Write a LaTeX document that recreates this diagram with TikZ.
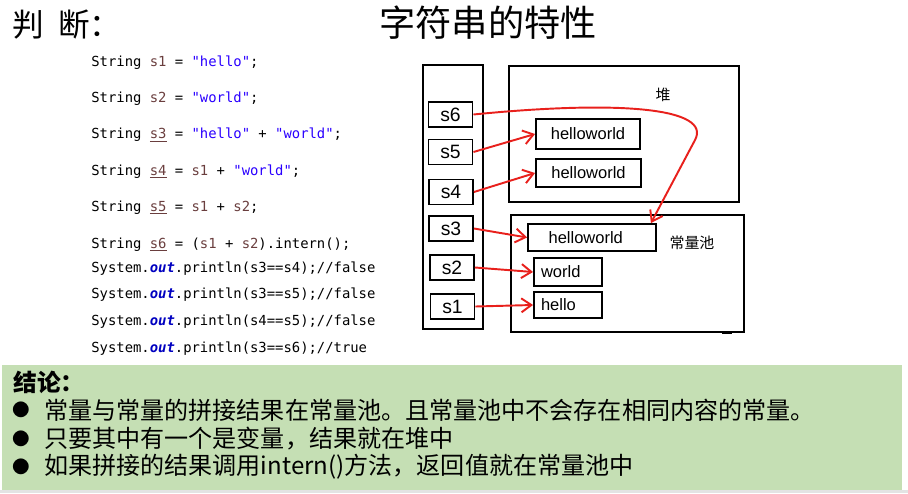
\documentclass[tikz,border=0pt]{standalone}
\usepackage{fontspec}
\setmainfont{Liberation Sans}
\setmonofont{DejaVu Sans Mono}
\newfontfamily\cjk{Noto Sans CJK SC}
\usetikzlibrary{arrows.meta,calc}
\definecolor{cvar}{HTML}{6A3E3E}
\definecolor{cstr}{HTML}{2A00FF}
\definecolor{cfield}{HTML}{0000C0}
\definecolor{cline}{HTML}{E8201C}
\definecolor{cnote}{HTML}{C5DFB4}
\newcommand{\jvar}[1]{\textcolor{cvar}{#1}}
\newcommand{\jstr}[1]{\textcolor{cstr}{#1}}
\newcommand{\jout}{\textcolor{cfield}{\bfseries\itshape out}}
\tikzset{
  code/.style={anchor=base west, inner sep=0pt, font=\ttfamily\fontsize{7.9}{10}\selectfont},
  area/.style={draw, line width=1.1pt, inner sep=0pt},
  ref/.style={draw, line width=1.1pt, minimum width=0.88cm, minimum height=0.5cm,
              inner sep=0pt, font=\fontsize{11}{13}\selectfont},
  obj/.style={draw, line width=1.1pt, minimum height=0.56cm, inner sep=0pt,
              font=\fontsize{9.4}{11}\selectfont},
  cjktext/.style={anchor=west, inner sep=0pt, font=\cjk\fontsize{13.7}{16}\selectfont},
  link/.style={-{Straight Barb[length=2mm,width=2.8mm]}, line width=1.1pt, draw=cline}
}
\begin{document}
\begin{tikzpicture}[x=0.02cm, y=-0.02cm]
\useasboundingbox (0,0) rectangle (908,493);
% headings
\node[anchor=west, inner sep=0pt, font=\cjk\fontsize{18}{21}\selectfont] (judge) at (12,25) {判\hspace{0.45em}断：};
\node[font=\cjk\fontsize{20.6}{24}\selectfont] (title) at (488,23) {字符串的特性};
% code
\node[code] (code1) at (91,67) {String \jvar{s1} = \jstr{"hello"};};
\node[code] (code2) at (91,103) {String \jvar{s2} = \jstr{"world"};};
\node[code] (code3) at (91,139) {String \jvar{\underline{s3}} = \jstr{"hello"} + \jstr{"world"};};
\node[code] (code4) at (91,175) {String \jvar{\underline{s4}} = \jvar{s1} + \jstr{"world"};};
\node[code] (code5) at (91,211) {String \jvar{\underline{s5}} = \jvar{s1} + \jvar{s2};};
\node[code] (code6) at (91,248) {String \jvar{\underline{s6}} = (\jvar{s1} + \jvar{s2}).intern();};
\node[code] (code7) at (91,272) {System.\jout.println(s3==s4);//false};
\node[code] (code8) at (91,298) {System.\jout.println(s3==s5);//false};
\node[code] (code9) at (91,325) {System.\jout.println(s4==s5);//false};
\node[code] (code10) at (91,352) {System.\jout.println(s3==s6);//true};
% memory
\node[area, minimum width=1.2cm, minimum height=5.28cm] (stack) at (453,197) {};
\node[area, minimum width=4.6cm, minimum height=2.72cm] (heap) at (624,134) {};
\node[area, minimum width=4.66cm, minimum height=2.34cm] (pool) at (627.5,273.5) {};
\fill (722,331) rectangle (732,334);
\node[font=\cjk\fontsize{8.5}{10}\selectfont] (heaplbl) at (663,95) {堆};
\node[font=\cjk\fontsize{8.5}{10}\selectfont] (poollbl) at (692,243) {常量池};
\node[ref] (s6) at (450.5,114.5) {s6};
\node[ref] (s5) at (450.5,152) {s5};
\node[ref] (s4) at (451,192) {s4};
\node[ref] (s3) at (451,228.5) {s3};
\node[ref] (s2) at (452,267.5) {s2};
\node[ref] (s1) at (452.5,306.5) {s1};
\node[obj, minimum width=2.08cm, minimum height=0.6cm] (hw1) at (588,134) {helloworld};
\node[obj, minimum width=2.1cm] (hw2) at (588.5,173) {helloworld};
\node[obj, minimum width=2.56cm, minimum height=0.54cm] (hwp) at (592,237.5) {\hspace{-0.25cm}helloworld};
\node[obj, inner xsep=0.14cm, text width=1.08cm, align=left] (world) at (568,272) {world};
\node[obj, inner xsep=0.14cm, text width=1.08cm, align=left, minimum height=0.52cm] (hello) at (568,305) {hello};
\draw[link] (s5.east) -- (hw1.west);
\draw[link] (s4.east) -- (hw2.west);
\draw[link] (s3.east) -- (hwp.west);
\draw[link] (s2.east) -- (world.west);
\draw[link] (s1.east) -- (hello.west);
\draw[link] (s6.east) .. controls (620,100) and (712,108) .. (695,140) -- ([xshift=-0.12cm]hwp.north east);
% conclusion
\fill[cnote] (2,365) rectangle (902,490);
\fill[gray!22] (0,490) rectangle (908,493);
\node[anchor=west, inner sep=0pt, font=\cjk\bfseries\fontsize{13.5}{16}\selectfont] (concl) at (13,382) {结论：};
\node[font=\cjk\fontsize{10}{12}\selectfont] (dot1) at (21,410) {●};
\node[font=\cjk\fontsize{10}{12}\selectfont] (dot2) at (21,439) {●};
\node[font=\cjk\fontsize{10}{12}\selectfont] (dot3) at (21,467) {●};
\node[cjktext] (note1) at (44,410) {常量与常量的拼接结果在常量池。且常量池中不会存在相同内容的常量。};
\node[cjktext] (note2) at (44,439) {只要其中有一个是变量，结果就在堆中};
\node[cjktext] (note3) at (44,467) {如果拼接的结果调用intern()方法，返回值就在常量池中};
\end{tikzpicture}
\end{document}
